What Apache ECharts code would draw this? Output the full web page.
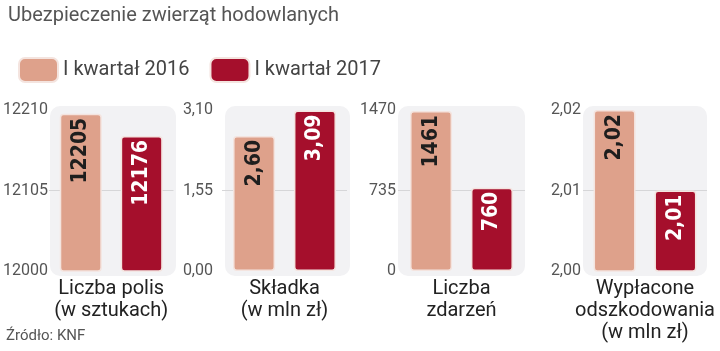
<!DOCTYPE html>
<html>
<head>
<meta charset="utf-8">
<script src="https://cdn.jsdelivr.net/npm/echarts@6/dist/echarts.min.js"></script>
<style>
  html, body { margin: 0; padding: 0; background: #fff; }
  #chart { width: 720px; height: 351px; }
</style>
</head>
<body>
<div id="chart"></div>
<script>
// dane z wykresu
var categories = ['Liczba polis\n(w sztukach)', 'Składka\n(w mln zł)', 'Liczba\nzdarzeń', 'Wypłacone\nodszkodowania\n(w mln zł)'];
var seriesNames = ['I kwartał 2016', 'I kwartał 2017'];
var values2016 = [12205, 2.60, 1461, 2.02];
var values2017 = [12176, 3.09, 760, 2.01];
var axisTicks = [
    [12000, 12105, 12210],
    [0, 1.55, 3.10],
    [0, 735, 1470],
    [2.00, 2.01, 2.02]
];
var decimals = [0, 2, 0, 2];

var colors = ['#dea18b', '#a50f2c'];
var labelColors = ['#1e1e1e', '#ffffff'];

// układ paneli (tło) i siatek
var panelLeft = [50, 225, 398, 583];
var panelWidth = [126, 125, 127, 124];
var gridLeft = [47.5, 222, 398, 583];
var labelMargin = [1, 9, 2, 2];

function fmt(v, d) {
    return Number(v).toFixed(d).replace('.', ',');
}

var dom = document.getElementById('chart');
var chart = echarts.init(dom);

var grids = [], xAxes = [], yAxes = [], series = [], bgs = [];

categories.forEach(function (cat, i) {
    grids.push({ left: gridLeft[i], top: 110, width: panelWidth[i], height: 161 });
    bgs.push({
        type: 'rect',
        z: -10,
        shape: { x: panelLeft[i], y: 106, width: panelWidth[i], height: 170, r: 10 },
        style: { fill: '#f2f2f4' }
    });
    xAxes.push({
        type: 'category',
        gridIndex: i,
        data: [cat],
        axisLine: { show: false },
        axisTick: { show: false },
        axisLabel: {
            margin: 7,
            fontSize: 20,
            lineHeight: 22,
            color: '#222',
            fontFamily: 'Roboto'
        }
    });
    var t = axisTicks[i];
    yAxes.push({
        type: 'value',
        gridIndex: i,
        min: t[0],
        max: t[2],
        axisLine: { show: false },
        axisTick: { show: false, customValues: [t[1]] },
        axisLabel: {
            customValues: t,
            margin: labelMargin[i],
            fontSize: 16,
            color: '#555',
            fontFamily: 'Roboto',
            formatter: function (v) { return fmt(v, decimals[i]); }
        },
        splitLine: { show: true, lineStyle: { color: '#d6d6d8', width: 1 } }
    });
    [values2016, values2017].forEach(function (vals, s) {
        series.push({
            name: seriesNames[s],
            type: 'bar',
            xAxisIndex: i,
            yAxisIndex: i,
            barWidth: 42,
            barGap: '45%',
            data: [vals[i]],
            itemStyle: {
                color: colors[s],
                borderColor: '#f4e4df',
                borderWidth: 1.5,
                borderRadius: 3
            },
            label: {
                show: true,
                position: 'insideTop',
                rotate: 90,
                align: 'right',
                verticalAlign: 'middle',
                distance: 4,
                fontSize: 21,
                fontWeight: 'bold',
                fontFamily: 'DejaVu Sans Condensed, Liberation Sans Narrow, sans-serif',
                color: labelColors[s],
                formatter: function (p) { return fmt(p.value, decimals[i]); }
            }
        });
    });
});

var option = {
    animation: false,
    title: [{
        text: 'Ubezpieczenie zwierząt hodowlanych',
        left: 3,
        top: 1,
        textStyle: { fontSize: 20, fontWeight: 'normal', color: '#555', fontFamily: 'Roboto' }
    }, {
        text: 'Źródło: KNF',
        left: 1,
        top: 324,
        textStyle: { fontSize: 15, fontWeight: 'normal', color: '#555', fontFamily: 'Roboto' }
    }],
    legend: {
        left: 13,
        top: 52,
        itemWidth: 39,
        itemHeight: 24,
        itemGap: 20,
        icon: 'roundRect',
        data: seriesNames,
        textStyle: { fontSize: 20, color: '#444', fontFamily: 'Roboto' }
    },
    graphic: bgs,
    grid: grids,
    xAxis: xAxes,
    yAxis: yAxes,
    series: series
};
chart.setOption(option);
</script>
</body>
</html>
